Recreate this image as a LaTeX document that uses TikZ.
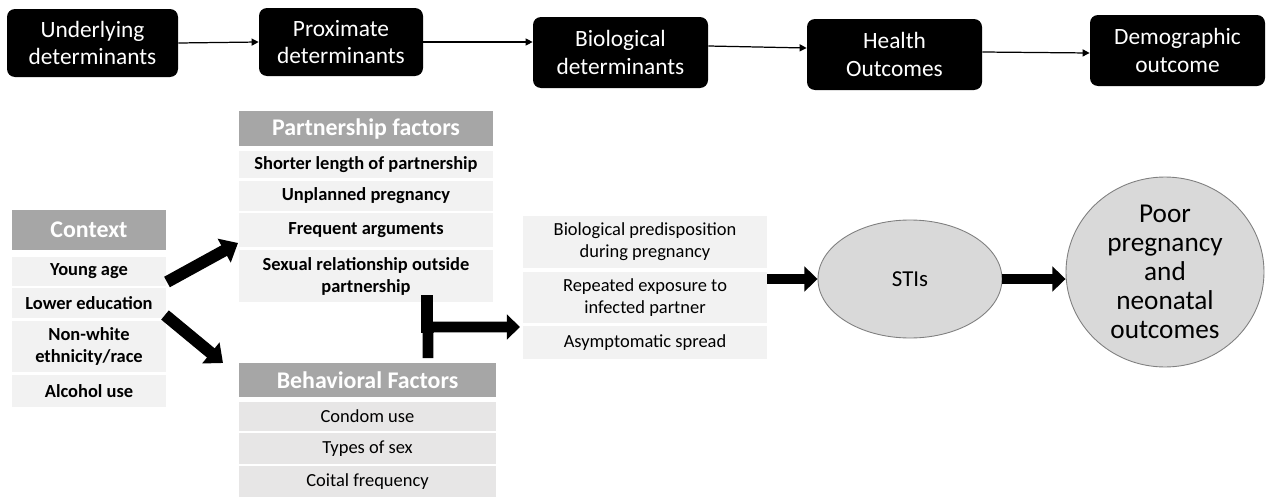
\documentclass[tikz,border=0pt]{standalone}
\usepackage{fontspec}
\setmainfont{Carlito}
\usetikzlibrary{arrows.meta,calc,shapes.geometric}
\definecolor{hdr}{HTML}{A6A6A6}
\definecolor{itm}{HTML}{F2F2F2}
\definecolor{itmb}{HTML}{E7E6E6}
\definecolor{ell}{HTML}{D9D9D9}
\definecolor{ellb}{HTML}{7F7F7F}
\begin{document}
\begin{tikzpicture}[x=0.02cm,y=-0.02cm,
 sz/.style 2 args={minimum width=#1*0.02cm, minimum height=#2*0.02cm},
 topbox/.style={fill=black, rounded corners=0.16cm, text=white, align=center, font=\fontsize{13.3}{15.5}\selectfont, inner sep=0pt},
 hdrbox/.style={fill=hdr, text=white, font=\bfseries\fontsize{13.6}{15.5}\selectfont, inner sep=0pt, align=center},
 itembox/.style={fill=itm, font=\bfseries\fontsize{10.5}{12.5}\selectfont, inner sep=0pt, align=center},
 behbox/.style={fill=itmb, font=\fontsize{10.5}{12.5}\selectfont, inner sep=0pt, align=center},
 biobox/.style={fill=itm, font=\fontsize{10.5}{12.5}\selectfont, inner sep=0pt, align=center},
 ellnode/.style={ellipse, fill=ell, draw=ellb, line width=0.5pt, inner sep=0pt, align=center, font=\fontsize{13}{15.5}\selectfont},
 bigtext/.style={font=\fontsize{15.5}{16.6}\selectfont},
 thinarrow/.style={draw=black, line width=0.7pt, -{Triangle[length=4pt,width=4pt]}},
 bigarrow/.style={draw=black, line width=6.2pt, -{Triangle[length=7.5pt,width=14pt]}},
 ctxarrow/.style={draw=black, line width=6.8pt, -{Triangle[length=9pt,width=15pt]}},
]
\useasboundingbox (0,0) rectangle (1269,497);
% top row
\node[topbox, sz={171}{68}] (b1) at (92.5,43) {Underlying\\determinants};
\node[topbox, sz={164}{68}] (b2) at (341,42) {Proximate\\determinants};
\node[topbox, sz={175}{71}] (b3) at (620.5,52.5) {Biological\\determinants};
\node[topbox, sz={175}{71}] (b4) at (894.5,54.5) {Health\\Outcomes};
\node[topbox, sz={175}{71}] (b5) at (1177.5,50.5) {Demographic\\outcome};
\draw[thinarrow] (b1.east) -- (b2.west);
\draw[thinarrow] (b2.east) -- (b2.east -| b3.west);
\draw[thinarrow] ($(b3.east)+(0,-6.5)$) -- ($(b4.west)+(0,-6.5)$);
\draw[thinarrow] ($(b4.east)+(0,-2.5)$) -- ($(b5.west)+(0,2.5)$);
% context
\node[hdrbox, sz={154}{40}] (ctx) at (89,230) {Context};
\node[itembox, sz={154}{29}] (young) at (89,271) {Young age};
\node[itembox, sz={154}{30}] (lower) at (89,303) {Lower education};
\node[itembox, sz={154}{51}] (nonw) at (89,346) {Non-white\\ethnicity/race};
\node[itembox, sz={154}{32}] (alc) at (89,391) {Alcohol use};
% partnership
\node[hdrbox, sz={254}{35}] (part) at (366,128.5) {Partnership factors};
\node[itembox, sz={254}{27}] (short) at (366,164.5) {Shorter length of partnership};
\node[itembox, sz={254}{30}] (unpl) at (366,196) {Unplanned pregnancy};
\node[itembox, sz={254}{34}] (freq) at (366,230) {Frequent arguments};
\node[itembox, sz={254}{52}] (sex) at (366,276) {Sexual relationship outside\\partnership};
% behavioral
\node[hdrbox, sz={257}{34}] (beh) at (367.5,380) {Behavioral Factors};
\node[behbox, sz={257}{29}] (cond) at (367.5,416.5) {Condom use};
\node[behbox, sz={257}{31}] (types) at (367.5,448.5) {Types of sex};
\node[behbox, sz={257}{31}] (coit) at (367.5,481.5) {Coital frequency};
% biological
\node[biobox, sz={244}{52}] (bio1) at (645,242) {Biological predisposition\\during pregnancy};
\node[biobox, sz={244}{51}] (bio2) at (645,297.5) {Repeated exposure to\\infected partner};
\node[biobox, sz={244}{33}] (bio3) at (645,342.5) {Asymptomatic spread};
% ellipses
\node[ellnode, sz={184}{118}] (sti) at (910,279) {STIs};
\node[ellnode, bigtext, sz={198}{164}] (poor) at (1165,272) {Poor\\pregnancy\\and\\neonatal\\outcomes};
% big arrows
\coordinate (c1s) at (167,282);
\coordinate (c1e) at (238,243);
\coordinate (c2s) at (165,315);
\coordinate (c2e) at (223,363);
\draw[ctxarrow] (c1s) -- (c1e);
\draw[ctxarrow] (c2s) -- (c2e);
\coordinate (tt) at (427,295);
\coordinate (tm) at (427,333);
\coordinate (tb) at (428,358);
\coordinate (tc) at (428,327);
\coordinate (te) at (520,327);
\draw[line width=6.8pt] (tt) -- (tm);
\draw[bigarrow, rounded corners=0.1cm] (tb) -- (tc) -- (te);
\draw[bigarrow] (sti.west -| bio2.east) -- (sti.west);
\draw[bigarrow] (sti.east) -- (sti.east -| poor.west);
\end{tikzpicture}
\end{document}
